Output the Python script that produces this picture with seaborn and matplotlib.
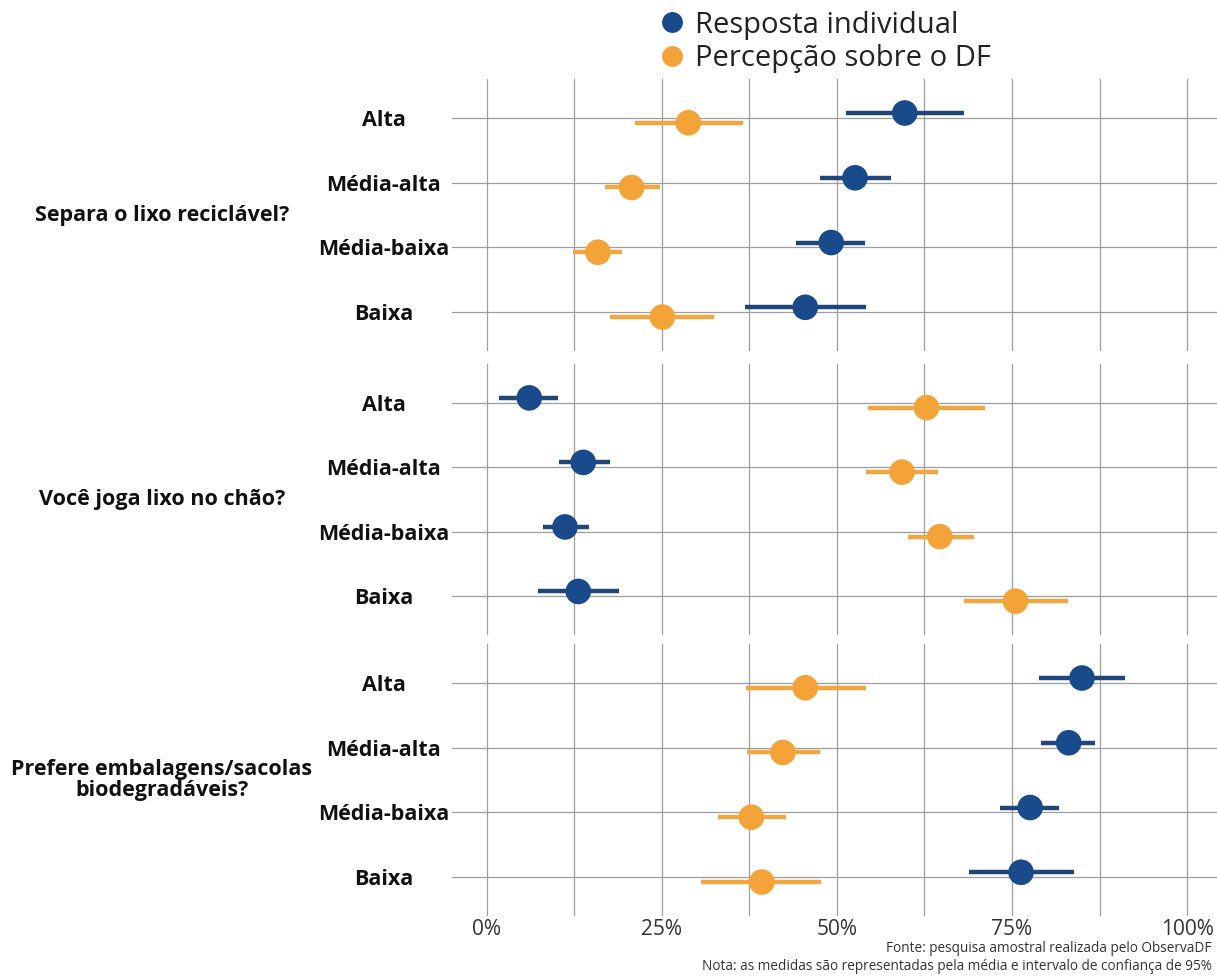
import numpy as np
import pandas as pd
import matplotlib
matplotlib.use("Agg")
import matplotlib.pyplot as plt
from matplotlib.lines import Line2D
import seaborn as sns

# ---- data -------------------------------------------------------------
perguntas = ["Separa o lixo reciclável?",
             "Você joga lixo no chão?",
             "Prefere embalagens/sacolas\nbiodegradáveis?"]
classes = ["Alta", "Média-alta", "Média-baixa", "Baixa"]
series = ["Resposta individual", "Percepção sobre o DF"]

# means and 95% CI bounds, per question, ordered as in `classes`
resp_media = [[0.597, 0.526, 0.492, 0.455],
              [0.061, 0.138, 0.112, 0.131],
              [0.850, 0.831, 0.776, 0.763]]
resp_inf = [[0.513, 0.476, 0.442, 0.369],
            [0.018, 0.103, 0.081, 0.073],
            [0.789, 0.792, 0.733, 0.689]]
resp_sup = [[0.682, 0.577, 0.540, 0.542],
            [0.102, 0.176, 0.146, 0.189],
            [0.911, 0.869, 0.817, 0.838]]

perc_media = [[0.288, 0.207, 0.159, 0.251],
              [0.628, 0.593, 0.647, 0.755],
              [0.455, 0.423, 0.378, 0.393]]
perc_inf = [[0.212, 0.169, 0.123, 0.176],
            [0.545, 0.542, 0.601, 0.682],
            [0.370, 0.372, 0.330, 0.306]]
perc_sup = [[0.366, 0.248, 0.194, 0.325],
            [0.712, 0.644, 0.696, 0.830],
            [0.542, 0.476, 0.428, 0.478]]

x_ticks = [0, 0.25, 0.5, 0.75, 1.0]
x_ticklabels = ["0%", "25%", "50%", "75%", "100%"]

fonte = "Fonte: pesquisa amostral realizada pelo ObservaDF"
nota = "Nota: as medidas são representadas pela média e intervalo de confiança de 95%"

# ---- long table -------------------------------------------------------
rows = []
for qi, q in enumerate(perguntas):
    for ci, c in enumerate(classes):
        rows.append(dict(pergunta=q, classe=c, serie=series[0],
                         media=resp_media[qi][ci], inf=resp_inf[qi][ci], sup=resp_sup[qi][ci]))
        rows.append(dict(pergunta=q, classe=c, serie=series[1],
                         media=perc_media[qi][ci], inf=perc_inf[qi][ci], sup=perc_sup[qi][ci]))
df = pd.DataFrame(rows)

# vertical dodge of the two series within a class row
dodge = {series[0]: -0.075, series[1]: 0.075}
df["ypos"] = df["classe"].map({c: i for i, c in enumerate(classes)}) + df["serie"].map(dodge)

# ---- style ------------------------------------------------------------
sns.set_theme(style="white")
plt.rcParams["font.family"] = ["Open Sans", "DejaVu Sans"]

cores = {series[0]: "#184a8c", series[1]: "#f4a339"}
cores_barra = {series[0]: "#1f4677", series[1]: "#f2a640"}

W, H = 1217, 980
fig = plt.figure(figsize=(W / 100, H / 100), dpi=100)
fig.patch.set_facecolor("white")

# panel extents in pixels (top, bottom)
paineis = [(79, 351), (364, 635), (644, 916)]
left_px = 451.5
right_px = 1216.5

for qi, (q, (top, bot)) in enumerate(zip(perguntas, paineis)):
    ax = fig.add_axes([left_px / W, 1 - bot / H, (right_px - left_px) / W, (bot - top) / H])
    sub = df[df["pergunta"] == q]

    # grid
    for xv in np.arange(0, 1.01, 0.125):
        ax.axvline(xv, color="#9e9e9e", lw=0.9, zorder=0)
    for yi in range(len(classes)):
        ax.axhline(yi, color="#9e9e9e", lw=0.9, zorder=0)

    # confidence intervals
    for s in series:
        d = sub[sub["serie"] == s]
        ax.hlines(d["ypos"], d["inf"], d["sup"], colors=cores_barra[s], lw=3.2, zorder=2)

    # means
    sns.scatterplot(data=sub, x="media", y="ypos", hue="serie", hue_order=series,
                    palette=cores, s=340, linewidth=0, legend=False, ax=ax, zorder=3)

    ax.set_xlim(-0.05, 1.042)
    ax.set_ylim(len(classes) - 0.4, -0.6)
    ax.set_yticks(range(len(classes)))
    ax.set_yticklabels(classes, fontsize=15.5, fontweight="bold", color="#111111")
    for lbl in ax.get_yticklabels():
        lbl.set_ha("center")
    ax.tick_params(axis="y", length=0, pad=49)
    ax.set_xticks(x_ticks)
    if qi == len(perguntas) - 1:
        ax.set_xticklabels(x_ticklabels, fontsize=15, color="#333333")
        ax.tick_params(axis="x", length=0, pad=2)
    else:
        ax.set_xticklabels([])
        ax.tick_params(axis="x", length=0)
    ax.set_xlabel("")
    ax.set_ylabel("")
    for sp in ax.spines.values():
        sp.set_visible(False)
    ax.set_facecolor("none")

    # facet label on the left
    fig.text(162 / W, 1 - ((top + bot) / 2) / H, q, ha="center", va="center",
             fontsize=15.5, fontweight="bold", color="#111111", linespacing=1.05)

# legend
handles = [Line2D([], [], marker="o", linestyle="none", markersize=15,
                  markerfacecolor=cores[s], markeredgewidth=0) for s in series]
fig.legend(handles, series, loc="upper center", bbox_to_anchor=(824 / W, 1 + 1 / H),
           frameon=False, fontsize=21, handletextpad=0.3, labelspacing=0.14,
           handlelength=1.0, borderaxespad=0, labelcolor="#222222")

# caption
fig.text(1212 / W, 1 - 948 / H, fonte, ha="right", va="center", fontsize=9.8, color="#333333")
fig.text(1212 / W, 1 - 966 / H, nota, ha="right", va="center", fontsize=9.8, color="#333333")

fig.savefig("out.png", dpi=100, facecolor="white")
